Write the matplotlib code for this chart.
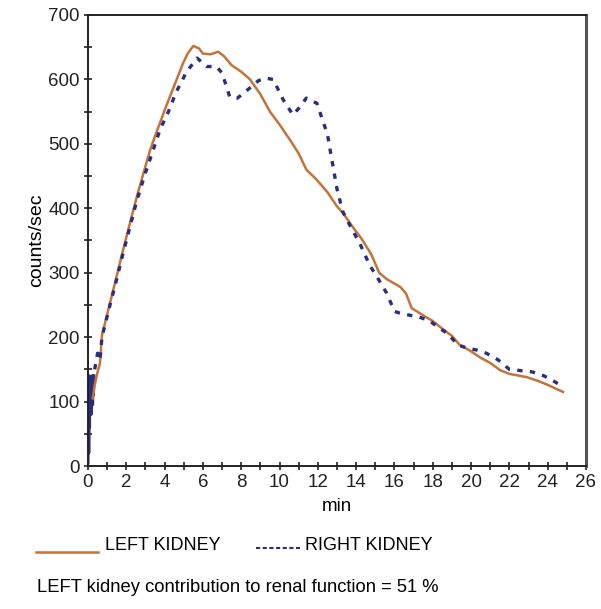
import numpy as np
import matplotlib
matplotlib.use('Agg')
from matplotlib import pyplot as plt
from matplotlib.lines import Line2D

plt.rcParams['font.family'] = ['Liberation Sans', 'DejaVu Sans']

# -= data =-
left_t = [0.25, 0.35, 0.45, 0.63, 0.73, 1.15, 1.5, 1.83, 2.2, 2.55, 2.9, 3.24, 3.6, 4.1, 4.5,
          4.96, 5.2, 5.5, 5.8, 6.0, 6.4, 6.8, 7.1, 7.5, 8.0, 8.46, 9.0, 9.5, 10.0, 10.55,
          11.0, 11.4, 11.95, 12.5, 13.0, 13.3, 13.8, 14.3, 14.8, 15.2, 15.6, 16.3, 16.6,
          16.9, 17.6, 18.0, 18.5, 19.0, 19.4, 20.0, 20.5, 21.0, 21.5, 22.0, 22.9, 23.5,
          24.0, 24.5, 24.8]
left_v = [105, 125, 140, 160, 203, 253, 295, 335, 378, 418, 455, 490, 520, 560, 590,
          625, 640, 652, 648, 640, 639, 643, 636, 622, 612, 600, 577, 550, 530, 506,
          485, 460, 444, 425, 403, 393, 372, 352, 328, 300, 290, 278, 268, 245, 232,
          225, 213, 202, 188, 178, 168, 160, 149, 143, 138, 132, 126, 119, 115]

spike_t = [0.0, 0.02, 0.04, 0.06, 0.08, 0.1, 0.12, 0.14, 0.16, 0.18, 0.2, 0.22, 0.24, 0.26, 0.28, 0.3]
spike_v = [5, 120, 20, 140, 60, 135, 90, 138, 80, 130, 100, 140, 95, 125, 110, 140]

right_t = [0.35, 0.5, 0.63, 0.73, 1.15, 1.5, 1.83, 2.2, 2.55, 3.0, 3.4, 3.76, 4.2, 4.6, 5.15,
           5.7, 6.2, 6.7, 7.0, 7.4, 7.8, 8.1, 8.46, 8.9, 9.25, 9.67, 10.2, 10.7, 11.0,
           11.4, 11.95, 12.5, 13.0, 13.3, 13.7, 14.2, 14.7, 15.1, 15.6, 16.0, 16.3,
           17.3, 17.8, 18.3, 18.8, 19.3, 19.8, 20.3, 20.8, 21.4, 22.0, 22.6, 23.2, 23.8,
           24.3, 24.8]
right_v = [150, 175, 165, 200, 250, 290, 330, 372, 412, 455, 490, 522, 550, 580, 612,
           633, 620, 620, 610, 573, 571, 578, 587, 598, 602, 600, 568, 545, 555,
           571, 563, 515, 430, 395, 372, 345, 312, 293, 268, 240, 237,
           231, 226, 215, 205, 188, 183, 180, 175, 165, 150, 148, 146, 140,
           132, 123]

left_col = '#c4733a'
right_col = '#2b2e7a'

fig = plt.figure(figsize=(6.01, 6.09), dpi=100)
ax = fig.add_axes([0.1464, 0.2348, 0.8286, 0.7406])

ax.plot(spike_t, spike_v, color=right_col, lw=2.2)
ax.plot(left_t, left_v, color=left_col, lw=1.8)
ax.plot(right_t, right_v, color=right_col, lw=2.4, ls=(0, (1.6, 2.2)))

ax.set_xlim(0, 26)
ax.set_ylim(0, 700)
ax.set_xticks(np.arange(0, 27, 2))
ax.set_xticks(np.arange(0, 27, 1), minor=True)
ax.set_yticks(np.arange(0, 701, 100))
ax.set_yticks(np.arange(0, 701, 50), minor=True)
ax.tick_params(which='both', direction='inout', length=6, width=1.2, labelsize=13.5, colors='#222222')
ax.tick_params(axis='x', pad=3)
ax.tick_params(axis='y', pad=3)

for s in ['left', 'bottom', 'top']:
    ax.spines[s].set_linewidth(1.4)
    ax.spines[s].set_color('#222222')
ax.spines['right'].set_linewidth(2.2)
ax.spines['right'].set_color('#555555')

ax.set_xlabel('min', fontsize=13.5, labelpad=5)
ax.set_ylabel('counts/sec', fontsize=14, labelpad=2)

# legend drawn under the axes
fig.add_artist(Line2D([36 / 601, 98 / 601], [1 - 552 / 609] * 2, color=left_col, lw=1.8, transform=fig.transFigure))
fig.text(105 / 601, 1 - 546 / 609, 'LEFT KIDNEY', fontsize=13, va='center', ha='left')
fig.add_artist(Line2D([256 / 601, 300 / 601], [1 - 548 / 609] * 2, color=right_col, lw=1.5,
                      ls=(0, (2, 1.2)), transform=fig.transFigure))
fig.text(305 / 601, 1 - 546 / 609, 'RIGHT KIDNEY', fontsize=13, va='center', ha='left')
fig.text(37 / 601, 1 - 587 / 609, 'LEFT kidney contribution to renal function = 51 %', fontsize=13.2,
         va='center', ha='left')

plt.savefig('out.png', dpi=100)
